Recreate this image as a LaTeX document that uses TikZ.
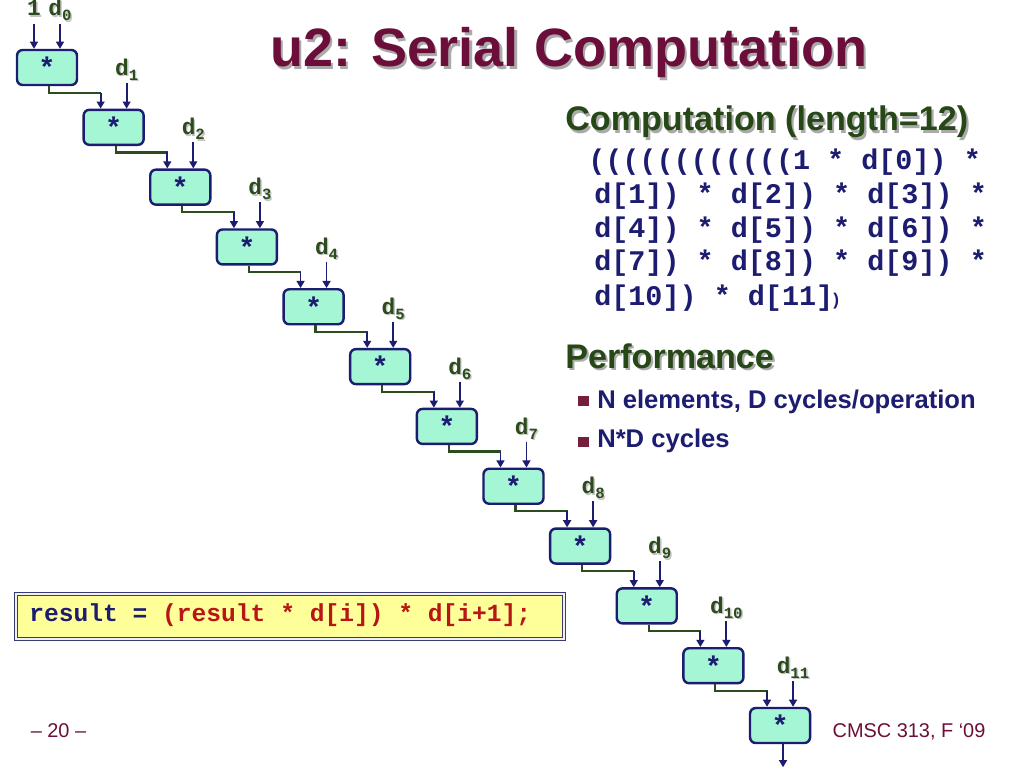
\documentclass[tikz,border=0pt]{standalone}
\usepackage{fontspec}
\setmainfont{Liberation Sans}
\setmonofont{Liberation Mono}
\usetikzlibrary{arrows.meta,calc}
\definecolor{navy}{RGB}{28,28,112}
\definecolor{hgreen}{RGB}{38,72,22}
\definecolor{lgreen}{RGB}{44,76,30}
\definecolor{mint}{RGB}{165,246,212}
\definecolor{maroon}{RGB}{108,14,58}
\definecolor{bulletc}{RGB}{118,30,62}
\definecolor{codered}{RGB}{184,22,22}
\definecolor{resyellow}{RGB}{255,255,153}
\definecolor{shadowgray}{RGB}{170,170,170}
\newcommand\shdw[1]{\leavevmode\rlap{\kern1.5pt\raisebox{-1.5pt}{\textcolor{shadowgray}{#1}}}#1}
\newcommand\shdwsm[1]{\leavevmode\rlap{\kern1pt\raisebox{-1pt}{\textcolor{shadowgray!70}{#1}}}#1}
\newcommand\dlab[1]{\shdwsm{d\raisebox{-3.5pt}{\fontsize{11}{11}\selectfont #1}}}
\begin{document}
\begin{tikzpicture}[x=0.703125pt,y=-0.703125pt,
  opbox/.style={draw=navy,line width=1.7pt,fill=mint,rounded corners=4pt,
    minimum width=42.2pt,minimum height=24.6pt,inner sep=0pt,
    text=navy,font=\ttfamily\bfseries\fontsize{20}{20}\selectfont},
  arr/.style={draw=navy,line width=1.3pt,-{Triangle[length=5pt,width=5.5pt]}},
  conn/.style={draw=lgreen,line width=1.5pt},
  dlabel/.style={anchor=base,inner sep=0pt,text=lgreen,font=\ttfamily\bfseries\fontsize{16}{16}\selectfont},
  titletext/.style={anchor=base,inner sep=0pt,text=maroon,font=\bfseries\fontsize{38}{38}\selectfont},
  headtext/.style={anchor=base west,inner sep=0pt,text=hgreen,font=\bfseries\fontsize{24}{24}\selectfont},
  codetext/.style={anchor=base west,inner sep=0pt,text=navy,font=\ttfamily\bfseries\fontsize{20}{24}\selectfont},
  bullettext/.style={anchor=base west,inner sep=0pt,text=navy,font=\bfseries\fontsize{18}{18}\selectfont},
  bulletsq/.style={fill=bulletc,minimum width=7.5pt,minimum height=7pt,inner sep=0pt},
  resbox/.style={draw=navy!70!gray,line width=0.7pt,double=gray!12,double distance=1.4pt,fill=resyellow,
    minimum width=385.5pt,minimum height=32pt,inner sep=0pt},
  restext/.style={anchor=base west,inner sep=0pt,text=navy,font=\ttfamily\bfseries\fontsize{17.3}{17.3}\selectfont},
  foot/.style={anchor=base,inner sep=0pt,text=maroon,font=\fontsize{14}{14}\selectfont}]
\useasboundingbox (0,0) rectangle (1024,768);
\fill[white] (0,0) rectangle (1024,768);
% title
\node[titletext] (title) at (569,67) {\shdw{u2: Serial Computation}};
% chain of multiplier boxes
\foreach \i in {0,...,11} {
  \pgfmathsetmacro\cx{47+66.64*\i}
  \pgfmathsetmacro\cy{67.5+59.82*\i}
  \node[opbox] (b\i) at (\cx,\cy) {*};
}
% first inputs
\coordinate (tone) at ($(b0.north)+(-13,-25)$);
\coordinate (t0) at ($(b0.north)+(13,-25)$);
\node[dlabel] (one) at ($(tone)+(0,-8)$) {\shdwsm{1}};
\node[dlabel] (d0) at ($(t0)+(0,-8)$) {\dlab{0}};
\draw[arr] (tone) -- ($(b0.north)+(-13,0)$);
\draw[arr] (t0) -- ($(b0.north)+(13,0)$);
% data inputs
\foreach \i in {1,...,11} {
  \coordinate (t\i) at ($(b\i.north)+(13,-26)$);
  \node[dlabel] (d\i) at ($(t\i)+(0,-7.5)$) {\dlab{\i}};
  \draw[arr] (t\i) -- ($(b\i.north)+(13,0)$);
}
% connectors between boxes
\foreach \i [evaluate=\i as \j using int(\i+1)] in {0,...,10} {
  \coordinate (k\i) at ($(b\j.north)+(-13,-16)$);
  \draw[conn] ($(b\i.south)+(2,0)$) |- ($(k\i)+(0.7,0)$);
  \draw[arr] (k\i) -- ($(b\j.north)+(-13,0)$);
}
\coordinate (out) at ($(b11.south)+(3,23)$);
\draw[arr] ($(b11.south)+(3,0)$) -- (out);
% computation
\node[headtext] (comp) at (565,131) {\shdw{Computation (length=12)}};
\node[codetext] (code1) at (588,170) {((((((((((((1 * d[0]) *};
\node[codetext] (code2) at (594,204) {d[1]) * d[2]) * d[3]) *};
\node[codetext] (code3) at (594,238) {d[4]) * d[5]) * d[6]) *};
\node[codetext] (code4) at (594,271) {d[7]) * d[8]) * d[9]) *};
\node[codetext] (code5) at (594,305) {d[10]) * d[11]{\rmfamily\fontsize{12}{12}\selectfont)}};
% performance
\node[headtext] (perf) at (565,368) {\shdw{Performance}};
\node[bulletsq] (sq1) at (583.5,401) {};
\node[bullettext] (bt1) at (597,408) {N elements, D cycles/operation};
\node[bulletsq] (sq2) at (583.5,442) {};
\node[bullettext] (bt2) at (597,447) {N*D cycles};
% result box
\node[resbox] (res) at (290,616.5) {};
\node[restext] (rest) at (29,621) {result = \textcolor{codered}{(result * d[i]) * d[i+1];}};
% footer
\node[foot] (page) at (58.5,737) {– 20 –};
\node[foot] (course) at (909,737) {CMSC 313, F ‘09};
\end{tikzpicture}
\end{document}
